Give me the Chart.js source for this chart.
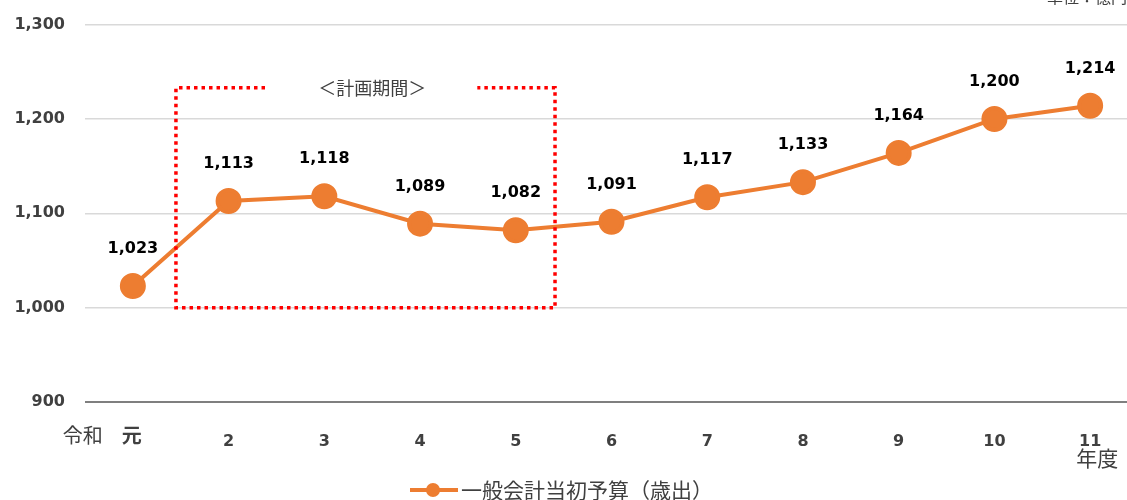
<!DOCTYPE html>
<html>
<head>
<meta charset="utf-8">
<script src="https://cdn.jsdelivr.net/npm/chart.js@4"></script>
<style>
  html, body { margin: 0; padding: 0; overflow: hidden; background: #fff; }
  #wrap { width: 1153px; height: 505px; margin-top: -5px; }
</style>
</head>
<body>
<div id="wrap"><canvas id="chart" width="1153" height="505"></canvas></div>
<script>
const years = ["元", "2", "3", "4", "5", "6", "7", "8", "9", "10", "11"];
const budget = [1023, 1113, 1118, 1089, 1082, 1091, 1117, 1133, 1164, 1200, 1214];
const yTicks = [900, 1000, 1100, 1200, 1300];

const orange = "#ED7D31";
const textGray = "#404040";
const cjk = "'Noto Sans CJK JP', 'Noto Sans', sans-serif";
const num = "'DejaVu Sans', Verdana, sans-serif";
const off = 5; // canvas is shifted up by this much

const fmt = v => v.toLocaleString("en-US");

// extras: data labels, plan-period box, axis notes, legend
const extras = {
  id: "extras",
  afterDatasetsDraw(chart) {
    const ctx = chart.ctx;
    const x = chart.scales.x, y = chart.scales.y;
    const meta = chart.getDatasetMeta(0);

    ctx.save();
    // value labels
    ctx.font = "bold 16px " + num;
    ctx.fillStyle = "#000";
    ctx.textAlign = "center";
    ctx.textBaseline = "middle";
    meta.data.forEach((pt, i) => {
      ctx.fillText(fmt(budget[i]), pt.x, pt.y - 37);
    });

    // plan period box
    const x0 = x.getPixelForValue(0.45), x1 = x.getPixelForValue(4.41);
    const yTop = y.getPixelForValue(1233), yBot = y.getPixelForValue(1000);
    const gapL = x0 + (x1 - x0) * 0.235, gapR = x0 + (x1 - x0) * 0.795;
    ctx.strokeStyle = "#ff0000";
    ctx.lineWidth = 3.5;
    ctx.setLineDash([3.5, 4]);
    ctx.beginPath();
    ctx.moveTo(gapL, yTop); ctx.lineTo(x0, yTop); ctx.lineTo(x0, yBot);
    ctx.lineTo(x1, yBot); ctx.lineTo(x1, yTop); ctx.lineTo(gapR, yTop);
    ctx.stroke();
    ctx.setLineDash([]);
    ctx.font = "18px " + cjk;
    ctx.fillStyle = textGray;
    ctx.fillText("＜計画期間＞", (gapL + gapR) / 2 + 1, yTop);

    // axis notes: first year label in CJK font
    const x0c = x.getPixelForValue(0);
    ctx.font = "bold 20px " + cjk;
    ctx.fillText(years[0], x0c - 1, 435 + off);
    ctx.font = "20px " + cjk;
    ctx.textAlign = "right";
    ctx.fillText("令和", x0c - 30, 435 + off);
    ctx.textAlign = "center";
    ctx.font = "21px " + cjk;
    ctx.fillText("年度", x.getPixelForValue(10) + 7, 458 + off);
    ctx.textAlign = "left";
    ctx.textBaseline = "bottom";
    ctx.font = "16px " + cjk;
    ctx.fillText("単位：億円", 1047, 5 + off);

    // legend
    const ly = 490 + off;
    ctx.strokeStyle = orange;
    ctx.lineWidth = 4;
    ctx.beginPath(); ctx.moveTo(410, ly); ctx.lineTo(458, ly); ctx.stroke();
    ctx.fillStyle = orange;
    ctx.beginPath(); ctx.arc(433, ly, 7, 0, Math.PI * 2); ctx.fill();
    ctx.fillStyle = textGray;
    ctx.font = "21px " + cjk;
    ctx.textBaseline = "middle";
    ctx.fillText("一般会計当初予算（歳出）", 461, ly);
    ctx.restore();
  }
};

new Chart(document.getElementById("chart"), {
  type: "line",
  data: {
    labels: years,
    datasets: [{
      label: "一般会計当初予算（歳出）",
      data: budget,
      borderColor: orange,
      backgroundColor: orange,
      borderWidth: 4,
      pointRadius: 11,
      pointBackgroundColor: orange,
      pointBorderColor: orange,
      tension: 0
    }]
  },
  options: {
    responsive: false,
    animation: false,
    layout: { padding: { top: 14, right: 7, left: 0, bottom: 0 } },
    plugins: { legend: { display: false }, tooltip: { enabled: false } },
    scales: {
      x: {
        offset: true,
        grid: { display: false },
        border: { display: false },
        ticks: {
          color: textGray,
          padding: 22,
          maxRotation: 0,
          font: { family: num, size: 16, weight: "bold" },
          callback: (v, i) => i === 0 ? "" : years[i]
        },
        afterFit: s => { s.height = 98; }
      },
      y: {
        min: 900,
        max: 1300,
        afterBuildTicks: s => { s.ticks = yTicks.map(v => ({ value: v })); },
        border: { display: false },
        grid: {
          color: c => c.tick.value === 900 ? "#7f7f7f" : "#d9d9d9",
          lineWidth: c => c.tick.value === 900 ? 2 : 1.5,
          drawTicks: false
        },
        ticks: {
          color: textGray,
          padding: 20,
          font: { family: num, size: 16, weight: "bold" },
          callback: v => fmt(v)
        },
        afterFit: s => { s.width = 85; }
      }
    }
  },
  plugins: [extras]
});
</script>
</body>
</html>
